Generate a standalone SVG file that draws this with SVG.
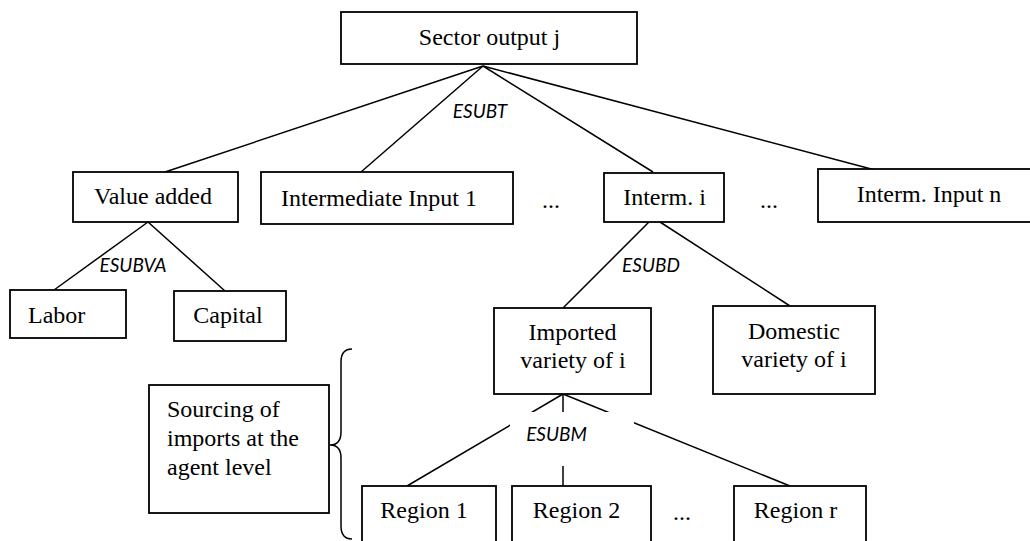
<svg xmlns="http://www.w3.org/2000/svg" width="1030" height="541" viewBox="0 0 1030 541">
<style>
.box{fill:#fff;stroke:#000;stroke-width:1.8}
.lbl{font-family:"Liberation Serif","Times New Roman",serif;font-size:24px;fill:#000}
.c{text-anchor:middle}
.es{font-family:Lato,"Liberation Sans",sans-serif;font-style:italic;font-size:19px;fill:#000;text-anchor:middle}
.ln{stroke:#000;stroke-width:1.5;fill:none}
</style>
<rect width="1030" height="541" fill="#fff"/>
<g id="connectors">
<line class="ln" x1="483" y1="66" x2="165" y2="172"/>
<line class="ln" x1="483" y1="66" x2="361" y2="172"/>
<line class="ln" x1="483" y1="66" x2="653" y2="172"/>
<line class="ln" x1="483" y1="66" x2="875" y2="170"/>
<line class="ln" x1="148" y1="222" x2="54" y2="290"/>
<line class="ln" x1="148" y1="222" x2="225" y2="291"/>
<line class="ln" x1="649" y1="222" x2="563" y2="308"/>
<line class="ln" x1="660" y1="222" x2="790" y2="306"/>
<line class="ln" x1="563" y1="394" x2="407" y2="486"/>
<line class="ln" x1="563" y1="394" x2="790" y2="486"/>
<line class="ln" x1="563" y1="394" x2="563" y2="486"/>
<path class="ln" d="M352,349 Q341,349 341,362 L341,432 Q341,445 330,445 Q341,445 341,458 L341,526 Q341,539 352,539"/>
</g>
<g id="sector">
<rect class="box" x="341" y="12" width="296" height="52"/>
<text class="lbl c" x="489.5" y="45">Sector output j</text>
</g>
<text class="es" x="480" y="118">ESUBT</text>
<g id="value-added">
<rect class="box" x="73" y="172" width="165" height="50"/>
<text class="lbl c" x="153" y="204">Value added</text>
</g>
<g id="intermediate-1">
<rect class="box" x="261" y="172" width="252" height="52"/>
<text class="lbl c" x="379" y="206">Intermediate Input 1</text>
</g>
<text class="lbl" x="542" y="208">...</text>
<g id="interm-i">
<rect class="box" x="604" y="173" width="120" height="49"/>
<text class="lbl c" x="664.5" y="205">Interm. i</text>
</g>
<text class="lbl" x="760" y="208">...</text>
<g id="interm-n">
<rect class="box" x="818" y="169" width="222" height="53"/>
<text class="lbl c" x="929" y="202">Interm. Input n</text>
</g>
<text class="es" x="133" y="272">ESUBVA</text>
<g id="labor">
<rect class="box" x="10" y="290" width="116" height="48"/>
<text class="lbl" x="28" y="323">Labor</text>
</g>
<g id="capital">
<rect class="box" x="174" y="291" width="112" height="50"/>
<text class="lbl c" x="228" y="323">Capital</text>
</g>
<text class="es" x="651" y="272">ESUBD</text>
<g id="imported">
<rect class="box" x="494" y="308" width="157" height="86"/>
<text class="lbl c" x="572.5" y="340">Imported</text>
<text class="lbl c" x="573" y="368">variety of i</text>
</g>
<g id="domestic">
<rect class="box" x="713" y="306" width="162" height="88"/>
<text class="lbl c" x="794" y="339">Domestic</text>
<text class="lbl c" x="794" y="367">variety of i</text>
</g>
<g id="sourcing">
<rect class="box" x="149" y="385" width="180" height="128"/>
<text class="lbl" x="167" y="417">Sourcing of</text>
<text class="lbl" x="167" y="446">imports at the</text>
<text class="lbl" x="167" y="475">agent level</text>
</g>
<g id="esubm">
<rect x="510" y="412" width="124" height="54" fill="#fff"/>
<text class="es" x="556.5" y="441">ESUBM</text>
</g>
<g id="region-1">
<rect class="box" x="362" y="486" width="134" height="70"/>
<text class="lbl c" x="424" y="518">Region 1</text>
</g>
<g id="region-2">
<rect class="box" x="512" y="486" width="139" height="70"/>
<text class="lbl c" x="576.5" y="518">Region 2</text>
</g>
<text class="lbl" x="673" y="520">...</text>
<g id="region-r">
<rect class="box" x="734" y="486" width="132" height="70"/>
<text class="lbl c" x="795.5" y="518">Region r</text>
</g>
</svg>
